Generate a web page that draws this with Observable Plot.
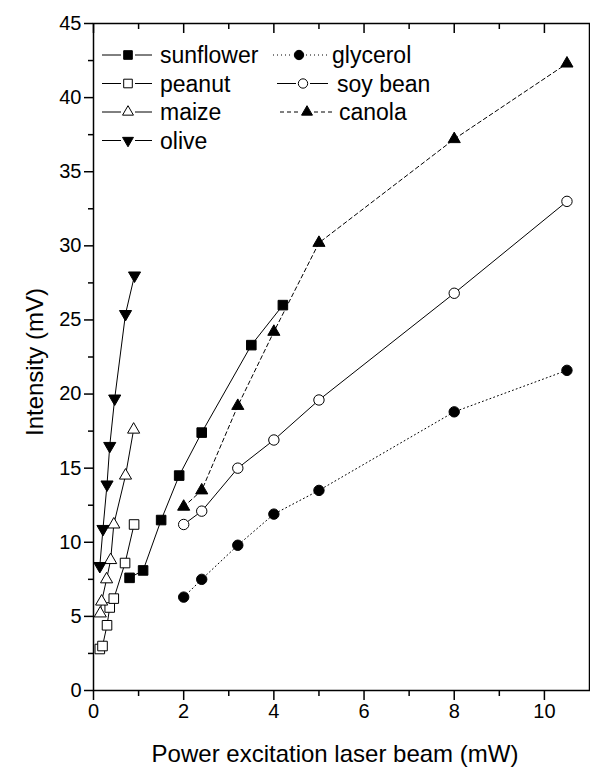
<!DOCTYPE html>
<html><head><meta charset="utf-8">
<script src="https://cdn.jsdelivr.net/npm/d3@7"></script>
<script src="https://cdn.jsdelivr.net/npm/@observablehq/plot@0.6"></script>
<style>
html,body{margin:0;padding:0;background:#fff;overflow:hidden}
#chart{position:relative;width:590px;height:768px}
#chart svg{display:block}
</style>
</head><body><div id="chart"></div>
<script>
// ---- data ----
const seriesNames = ["sunflower", "peanut", "maize", "olive", "glycerol", "soy bean", "canola"];

const sunflowerPower = [0.8, 1.1, 1.5, 1.9, 2.4, 3.5, 4.2];
const sunflowerIntensity = [7.6, 8.1, 11.5, 14.5, 17.4, 23.3, 26.0];

const peanutPower = [0.14, 0.2, 0.3, 0.36, 0.45, 0.7, 0.9];
const peanutIntensity = [2.8, 3.0, 4.4, 5.6, 6.2, 8.6, 11.2];

const maizePower = [0.15, 0.18, 0.29, 0.38, 0.45, 0.71, 0.89];
const maizeIntensity = [5.2, 6.0, 7.5, 8.8, 11.2, 14.5, 17.6];

const olivePower = [0.14, 0.21, 0.3, 0.36, 0.47, 0.71, 0.91];
const oliveIntensity = [8.4, 10.9, 13.9, 16.5, 19.7, 25.4, 28.0];

const glycerolPower = [2.0, 2.4, 3.2, 4.0, 5.0, 8.0, 10.5];
const glycerolIntensity = [6.3, 7.5, 9.8, 11.9, 13.5, 18.8, 21.6];

const soyBeanPower = [2.0, 2.4, 3.2, 4.0, 5.0, 8.0, 10.5];
const soyBeanIntensity = [11.2, 12.1, 15.0, 16.9, 19.6, 26.8, 33.0];

const canolaPower = [2.0, 2.4, 3.2, 4.0, 5.0, 8.0, 10.5];
const canolaIntensity = [12.4, 13.5, 19.2, 24.2, 30.2, 37.2, 42.3];

const xMajorTicks = [0, 2, 4, 6, 8, 10];
const xMinorTicks = [1, 3, 5, 7, 9];
const yMajorTicks = [0, 5, 10, 15, 20, 25, 30, 35, 40, 45];
const yMinorTicks = [2.5, 7.5, 12.5, 17.5, 22.5, 27.5, 32.5, 37.5, 42.5];

const xTitle = "Power excitation laser beam (mW)";
const yTitle = "Intensity (mV)";

// ---- build ----
const seriesData = {
  "sunflower": [sunflowerPower, sunflowerIntensity],
  "peanut": [peanutPower, peanutIntensity],
  "maize": [maizePower, maizeIntensity],
  "olive": [olivePower, oliveIntensity],
  "glycerol": [glycerolPower, glycerolIntensity],
  "soy bean": [soyBeanPower, soyBeanIntensity],
  "canola": [canolaPower, canolaIntensity]
};
const styleOf = {
  "sunflower": {symbol: "square", fill: "black", dash: null, rotate: 0},
  "peanut": {symbol: "square", fill: "white", dash: null, rotate: 0},
  "maize": {symbol: "triangle", fill: "white", dash: null, rotate: 0},
  "olive": {symbol: "triangle", fill: "black", dash: null, rotate: 180},
  "glycerol": {symbol: "circle", fill: "black", dash: "1,3", rotate: 0},
  "soy bean": {symbol: "circle", fill: "white", dash: null, rotate: 0},
  "canola": {symbol: "triangle", fill: "black", dash: "4,3", rotate: 0}
};
const radiusOf = {square: 5.4, circle: 5.2, triangle: 4.5};

const W = 590, H = 768, mL = 93, mR = 1, mT = 23, mB = 78;
const xDomain = [0, 11], yDomain = [0, 45];
const pxPerY = (H - mT - mB) / (yDomain[1] - yDomain[0]);
const pxPerX = (W - mL - mR) / (xDomain[1] - xDomain[0]);

const marks = [];
for (const name of seriesNames) {
  const [xs, ys] = seriesData[name];
  const rows = xs.map((x, i) => ({x, y: ys[i]}));
  const st = styleOf[name];
  marks.push(Plot.line(rows, {x: "x", y: "y", stroke: "black", strokeWidth: 1, strokeDasharray: st.dash}));
}
for (const name of seriesNames) {
  const [xs, ys] = seriesData[name];
  const rows = xs.map((x, i) => ({x, y: ys[i]}));
  const st = styleOf[name];
  marks.push(Plot.dot(rows, {x: "x", y: "y", symbol: st.symbol, r: radiusOf[st.symbol], fill: st.fill, stroke: "black", strokeWidth: 1, rotate: st.rotate}));
}

// tick marks as rules (length given in pixels, converted through the scale factor)
const tickRulesX = (ticks, yAt, lenPx) =>
  Plot.ruleX(ticks, {x: d => d, y1: yAt, y2: yAt + lenPx / pxPerY, stroke: "black", strokeWidth: 1.5, clip: false});
const tickRulesY = (ticks, xAt, lenPx) =>
  Plot.ruleY(ticks, {y: d => d, x1: xAt, x2: xAt + lenPx / pxPerX, stroke: "black", strokeWidth: 1.5, clip: false});

const plot = Plot.plot({
  width: W,
  height: H,
  marginLeft: mL,
  marginRight: mR,
  marginTop: mT,
  marginBottom: mB,
  style: {fontFamily: "'Liberation Sans', Arial, sans-serif", color: "black", background: "white"},
  x: {domain: xDomain},
  y: {domain: yDomain},
  marks: [
    ...marks,
    Plot.axisY({ticks: yMajorTicks, tickSize: 9, tickPadding: 3, fontSize: 20, label: null, strokeWidth: 1.5}),
    Plot.axisX({ticks: xMajorTicks, tickSize: 10, tickPadding: 3, fontSize: 20, label: null, strokeWidth: 1.5}),
    tickRulesY(yMinorTicks, 0, -5),
    tickRulesX(xMinorTicks, 0, -6),
    tickRulesX(xMajorTicks, yDomain[1], -10),
    tickRulesX(xMinorTicks, yDomain[1], -6),
    Plot.frame({stroke: "black", strokeWidth: 1.5})
  ]
});
document.getElementById("chart").appendChild(plot);

// ---- titles & legend ----
const svg = d3.select(plot);
const font = "'Liberation Sans', Arial, sans-serif";
svg.append("text").attr("x", 335).attr("y", 762).attr("text-anchor", "middle")
  .attr("font-family", font).attr("font-size", 24).attr("fill", "black").text(xTitle);
svg.append("text").attr("transform", "translate(43,362) rotate(-90)").attr("text-anchor", "middle")
  .attr("font-family", font).attr("font-size", 24).attr("fill", "black").text(yTitle);

const symbolType = {square: d3.symbolSquare, circle: d3.symbolCircle, triangle: d3.symbolTriangle};
// legend layout: [left line start, marker x, right line end, text x, row y]
const legendLayout = {
  "sunflower": [102, 128, 152, 160, 55],
  "peanut": [102, 128, 152, 160, 83.5],
  "maize": [102, 128, 152, 160, 112],
  "olive": [102, 128, 152, 160, 140.5],
  "glycerol": [273, 299, 328, 332, 55],
  "soy bean": [277, 303, 328, 337, 83.5],
  "canola": [280, 307, 332, 339, 112]
};
const lg = svg.append("g").attr("font-family", font).attr("font-size", 23)
  .attr("fill", "black").attr("text-anchor", "start");
for (const name of seriesNames) {
  const [x1, mx, x2, tx, y] = legendLayout[name];
  const st = styleOf[name];
  for (const [a, b] of [[x1, mx - 7], [mx + 7, x2]]) {
    lg.append("line").attr("x1", a).attr("x2", b).attr("y1", y).attr("y2", y)
      .attr("stroke", "black").attr("stroke-width", 1)
      .attr("stroke-dasharray", st.dash);
  }
  const r = radiusOf[st.symbol] * 0.9;
  lg.append("path")
    .attr("d", d3.symbol().type(symbolType[st.symbol]).size(Math.PI * r * r)())
    .attr("transform", `translate(${mx},${y}) rotate(${st.rotate})`)
    .attr("fill", st.fill).attr("stroke", "black").attr("stroke-width", 1);
  lg.append("text").attr("x", tx).attr("y", y + 8).attr("text-anchor", "start").text(name);
}
</script>
</body></html>
